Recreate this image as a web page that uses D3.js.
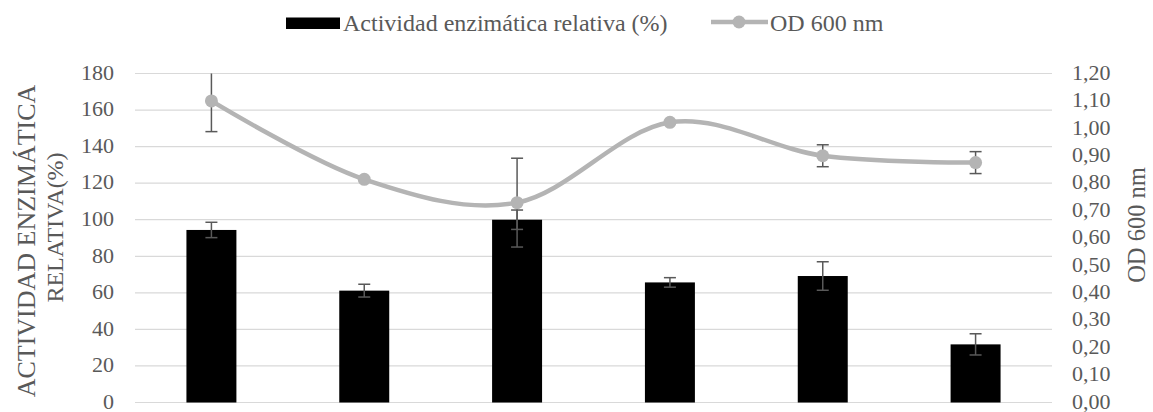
<!DOCTYPE html>
<html><head><meta charset="utf-8">
<script src="https://cdn.jsdelivr.net/npm/d3@7/dist/d3.min.js"></script>
<style>html,body{margin:0;padding:0;background:#fff;}svg{display:block;}</style>
</head><body>
<script>
const categories = ["1","2","3","4","5","6"];
const actividad = [94.4, 61.2, 100, 65.7, 69.2, 31.8];
const actividadErr = [4.2, 3.5, 5.3, 2.6, 7.8, 5.8];
const od = [1.10, 0.814, 0.729, 1.022, 0.900, 0.875];
const odErr = [0.112, 0, 0.162, 0, 0.04, 0.04];
const leftTicks = [0,20,40,60,80,100,120,140,160,180];
const rightTicks = [0,0.1,0.2,0.3,0.4,0.5,0.6,0.7,0.8,0.9,1.0,1.1,1.2];

const W = 1153, H = 412;
const L = 135, R = 1052, T = 73.5, B = 402.5;
const font = "'Liberation Serif','Times New Roman',serif";
const textCol = "#595959";

const svg = d3.select("body").append("svg").attr("width", W).attr("height", H);

const x = d3.scaleBand().domain(categories).range([L, R]).paddingInner(0.673).paddingOuter(0.3365);
const yL = d3.scaleLinear().domain([0, 180]).range([B, T]);
const yR = d3.scaleLinear().domain([0, 1.2]).range([B, T]);

// gridlines
svg.append("g").selectAll("line").data(leftTicks).join("line")
  .attr("x1", L).attr("x2", R)
  .attr("y1", d => yL(d)).attr("y2", d => yL(d))
  .attr("stroke", "#d9d9d9").attr("stroke-width", 1.2);

// left axis
const ax = svg.append("g").attr("transform", `translate(${L - 21},0)`)
  .call(d3.axisLeft(yL).tickValues(leftTicks).tickSize(0).tickPadding(0));
ax.select(".domain").remove();
ax.selectAll("text").attr("font-family", font).attr("font-size", 22).attr("fill", textCol).attr("dy", "0.26em");

// right axis
const fmt = d => d3.format(".2f")(d).replace(".", ",");
const axr = svg.append("g").attr("transform", `translate(${R + 20},0)`)
  .call(d3.axisRight(yR).tickValues(rightTicks).tickFormat(fmt).tickSize(0).tickPadding(0));
axr.select(".domain").remove();
axr.selectAll("text").attr("font-family", font).attr("font-size", 22).attr("fill", textCol).attr("dy", "0.26em");

// bars
svg.append("g").selectAll("rect").data(actividad).join("rect")
  .attr("x", (d, i) => x(categories[i]))
  .attr("width", x.bandwidth())
  .attr("y", d => yL(d))
  .attr("height", d => yL(0) - yL(d))
  .attr("fill", "#000");

function errBars(g, vals, errs, scale) {
  vals.forEach((v, i) => {
    if (!errs[i]) return;
    const cx = x(categories[i]) + x.bandwidth() / 2;
    const top = Math.max(scale(v + errs[i]), T);
    const bot = scale(v - errs[i]);
    g.append("line").attr("x1", cx).attr("x2", cx).attr("y1", top).attr("y2", bot);
    if (scale(v + errs[i]) >= T)
      g.append("line").attr("x1", cx - 6).attr("x2", cx + 6).attr("y1", top).attr("y2", top);
    g.append("line").attr("x1", cx - 6).attr("x2", cx + 6).attr("y1", bot).attr("y2", bot);
  });
}
const ge1 = svg.append("g").attr("stroke", "#595959").attr("stroke-width", 1.5);
errBars(ge1, actividad, actividadErr, yL);

// line
const line = d3.line()
  .x((d, i) => x(categories[i]) + x.bandwidth() / 2)
  .y(d => yR(d))
  .curve(d3.curveCatmullRom.alpha(0));
svg.append("path").datum(od).attr("d", line)
  .attr("fill", "none").attr("stroke", "#b4b4b4").attr("stroke-width", 4.5);

const ge2 = svg.append("g").attr("stroke", "#595959").attr("stroke-width", 1.5);
errBars(ge2, od, odErr, yR);

svg.append("g").selectAll("circle").data(od).join("circle")
  .attr("cx", (d, i) => x(categories[i]) + x.bandwidth() / 2)
  .attr("cy", d => yR(d))
  .attr("r", 6.5).attr("fill", "#b4b4b4");

// axis titles
svg.append("text").attr("transform", "translate(35,241) rotate(-90)")
  .attr("text-anchor", "middle").attr("font-family", font).attr("font-size", 26).attr("fill", textCol)
  .text("ACTIVIDAD ENZIMÁTICA");
svg.append("text").attr("transform", "translate(63,227.5) rotate(-90)")
  .attr("text-anchor", "middle").attr("font-family", font).attr("font-size", 24).attr("fill", textCol)
  .text("RELATIVA(%)");
svg.append("text").attr("transform", "translate(1145,225) rotate(-90)")
  .attr("text-anchor", "middle").attr("font-family", font).attr("font-size", 24.5).attr("fill", textCol)
  .text("OD 600 nm");

// legend
const lg = svg.append("g");
lg.append("rect").attr("x", 286).attr("y", 17.5).attr("width", 54).attr("height", 11.5).attr("fill", "#000");
lg.append("text").attr("x", 343).attr("y", 31).attr("font-family", font).attr("font-size", 24).attr("fill", textCol)
  .text("Actividad enzimática relativa (%)");
lg.append("line").attr("x1", 711).attr("x2", 768).attr("y1", 22).attr("y2", 22)
  .attr("stroke", "#b4b4b4").attr("stroke-width", 4.5);
lg.append("circle").attr("cx", 739).attr("cy", 22).attr("r", 6.5).attr("fill", "#b4b4b4");
lg.append("text").attr("x", 770).attr("y", 31).attr("font-family", font).attr("font-size", 24).attr("fill", textCol)
  .text("OD 600 nm");
</script>
</body></html>
